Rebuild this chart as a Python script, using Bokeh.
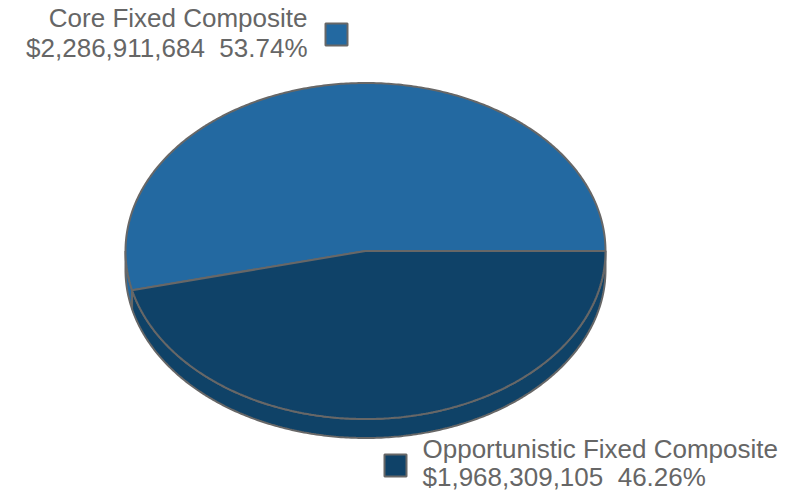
import numpy as np
from bokeh.plotting import figure
from bokeh.models import Range1d
from bokeh.core.properties import value
from bokeh.embed import file_html
from bokeh.resources import INLINE

# ---- data ----
names = ["Core Fixed Composite", "Opportunistic Fixed Composite"]
amounts = [2286911684, 1968309105]
colors = ["#2369A1", "#0F4268"]
side_colors = ["#2268A0", "#0F4267"]

# ---- layout constants (screen-like coordinates) ----
W, H = 788, 494
CX, CY = 365.0, 250.5
RX, RY = 240.0, 168.0
DEPTH = 19.0
EDGE = "#676767"
TXT = "#666666"
FONT = "Liberation Sans"
FSIZE = "26px"

p = figure(width=W, height=H, x_range=Range1d(0, W), y_range=Range1d(H, 0),
           output_backend="svg", toolbar_location=None, min_border=0,
           x_axis_location=None, y_axis_location=None)
p.grid.visible = False
p.outline_line_color = None
p.background_fill_color = "white"

total = float(sum(amounts))
fracs = [a / total for a in amounts]
bounds = np.concatenate([[0.0], np.cumsum(fracs)]) * 2 * np.pi  # counterclockwise from 3 o'clock


def arc(t0, t1, n=200):
    t = np.linspace(t0, t1, max(int(n * (t1 - t0) / (2 * np.pi)) + 2, 3))
    return CX + RX * np.cos(t), CY - RY * np.sin(t)


# side walls (front half: angles pi..2pi)
for i in range(len(amounts)):
    a0, a1 = max(bounds[i], np.pi), min(bounds[i + 1], 2 * np.pi)
    if a1 <= a0:
        continue
    xs, ys = arc(a0, a1, 600)
    px = np.concatenate([xs, xs[::-1]])
    py = np.concatenate([ys, (ys + DEPTH)[::-1]])
    p.patch(px, py, fill_color=side_colors[i], line_color=EDGE, line_width=2)

# top faces
for i in range(len(amounts)):
    xs, ys = arc(bounds[i], bounds[i + 1], 600)
    px = np.concatenate([[CX], xs, [CX]])
    py = np.concatenate([[CY], ys, [CY]])
    p.patch(px, py, fill_color=colors[i], line_color=EDGE, line_width=2)

# labels (second space non-breaking so SVG keeps the double gap)
labels = [f"${a:,} \u00a0{f * 100:.2f}%" for a, f in zip(amounts, fracs)]

# Core label (upper left, right aligned) + square
p.quad(left=[325], right=[347], top=[23], bottom=[45], fill_color=colors[0],
       line_color=EDGE, line_width=2)
p.text(x=[307, 307], y=[17, 47], text=[names[0], labels[0]], text_align="right",
       text_baseline="alphabetic", text_font=value(FONT), text_font_size=FSIZE,
       text_color=TXT)

# Opportunistic label (lower right, left aligned) + square
p.quad(left=[384], right=[406], top=[454], bottom=[476], fill_color=colors[1],
       line_color=EDGE, line_width=2)
p.text(x=[422, 422], y=[448, 476], text=[names[1], labels[1]], text_align="left",
       text_baseline="alphabetic", text_font=value(FONT), text_font_size=FSIZE,
       text_color=TXT)

open("out.html", "w").write(file_html(p, INLINE))
